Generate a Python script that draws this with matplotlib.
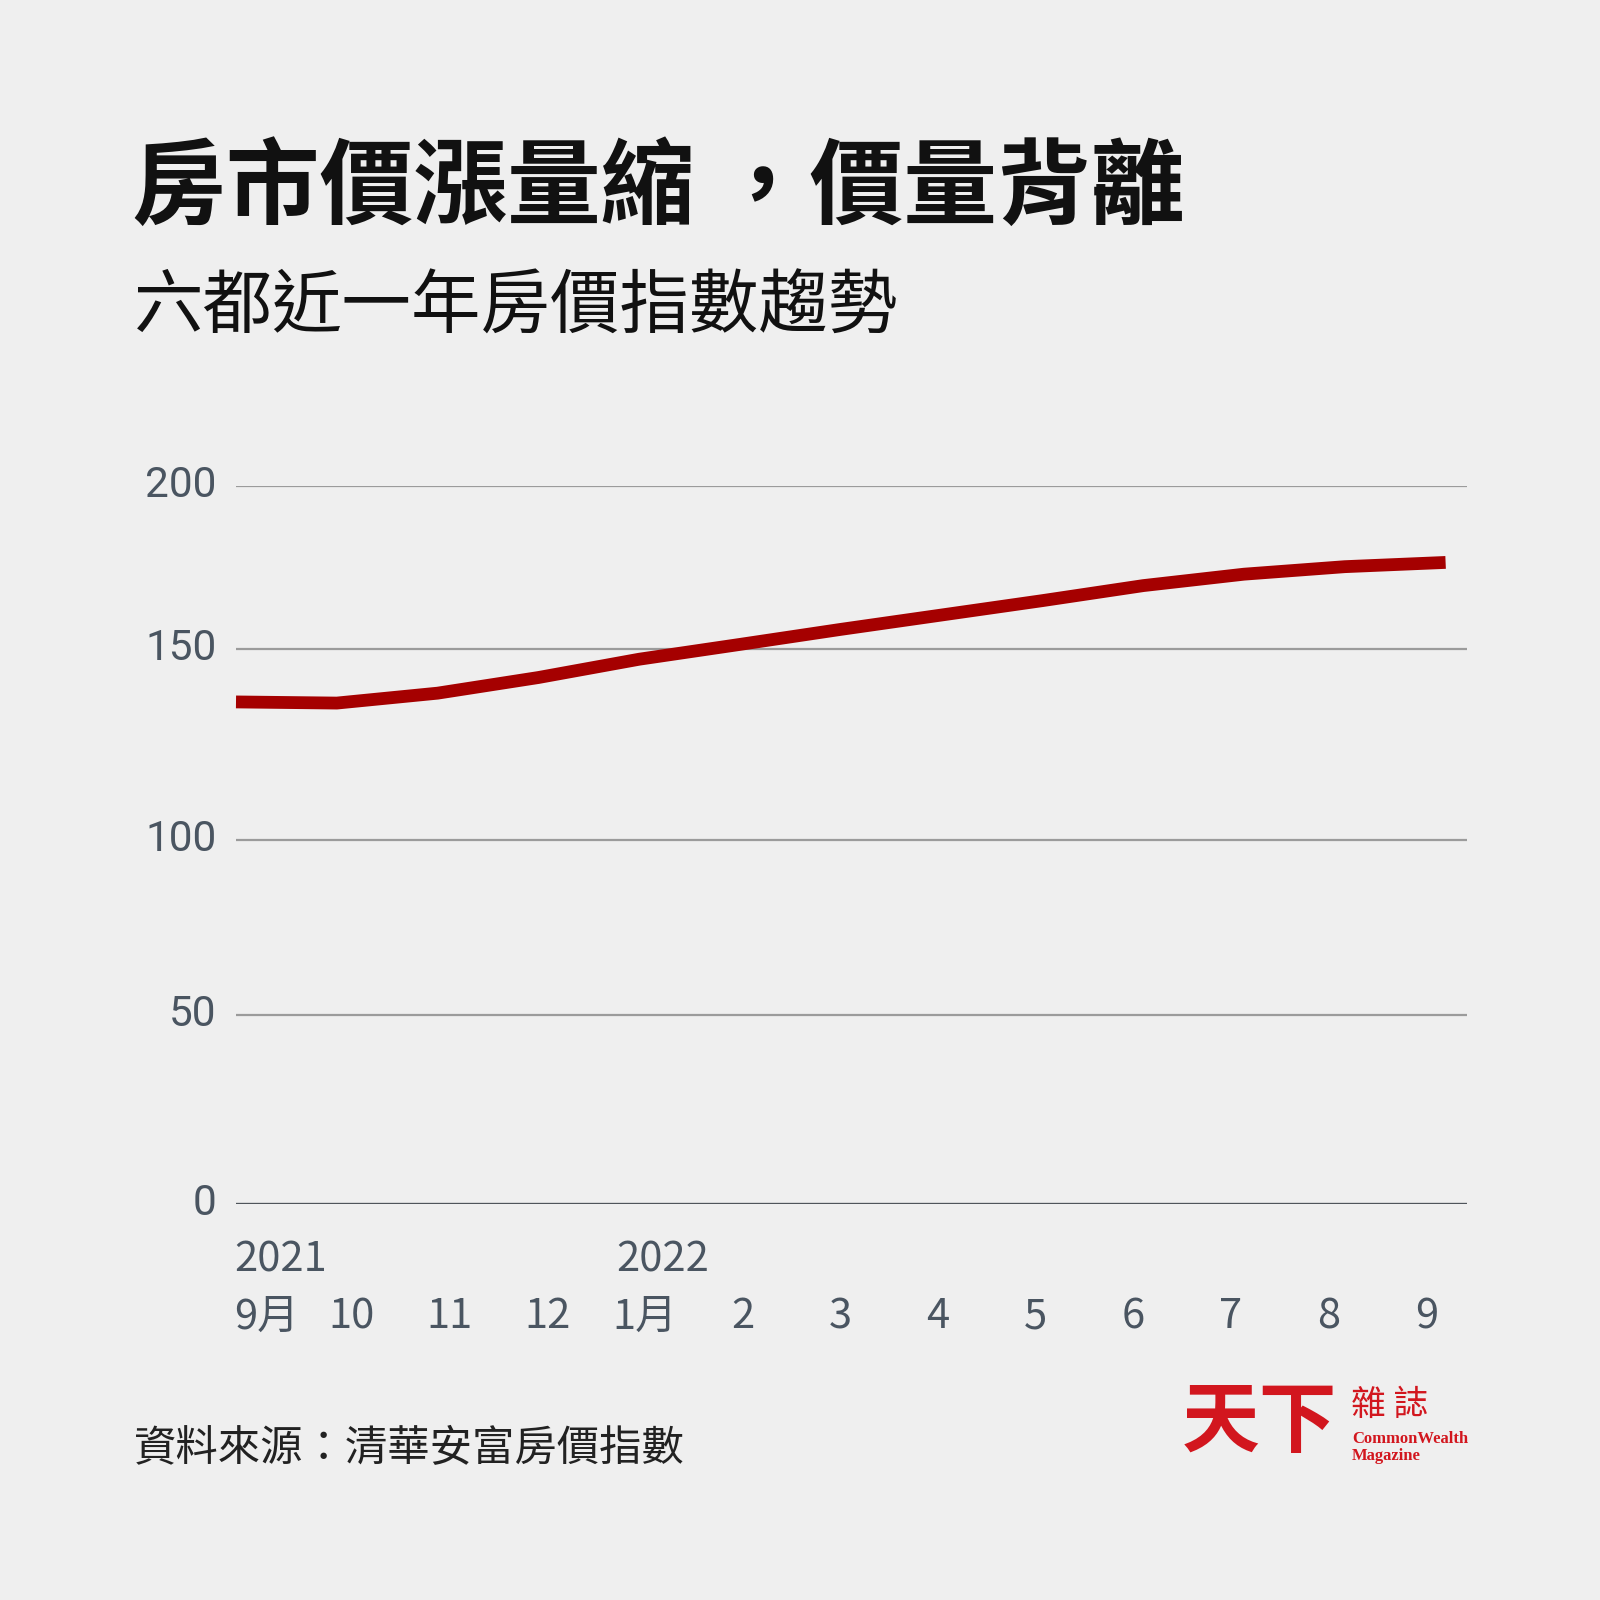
import numpy as np
import matplotlib
matplotlib.use("Agg")
import matplotlib.pyplot as plt
from matplotlib.transforms import ScaledTranslation

# ---------------- data ----------------
months = ["9月", "10", "11", "12", "1月", "2", "3", "4", "5", "6", "7", "8", "9"]
years = ["2021", "2022"]
year_month_index = [0, 4]
index_values = [136.2, 135.9, 138.5, 142.6, 147.4, 151.5, 156.1, 160.5,
                164.9, 169.5, 173.0, 175.3, 176.6]
y_ticks = [0, 50, 100, 150, 200]

title = "房市價漲量縮 ，價量背離"
subtitle = "六都近一年房價指數趨勢"
source = "資料來源：清華安富房價指數"

# ---------------- style ----------------
BG = "#efefef"
LINE = "#a50000"
TXT = "#4a5561"
RED = "#d2161e"
W = H = 1600.0

# gridlines in the reference are not evenly spaced (pixel offsets above zero line)
grid_px = [0.0, 189.0, 363.7, 554.4, 717.7]
ext_v = [-50] + y_ticks + [250]
ext_p = [-189.0] + grid_px + [717.7 + 163.3]


def fwd(v):
    return np.interp(v, ext_v, ext_p)


def inv(p):
    return np.interp(p, ext_p, ext_v)


fig = plt.figure(figsize=(16, 16), dpi=100, facecolor=BG)

x0, x1 = 236.0, 1467.0
yb, yt = 1203.7, 486.0
step = 100.8  # px per month of the data line
ax = fig.add_axes([x0 / W, 1 - yb / H, (x1 - x0) / W, (yb - yt) / H])
ax.set_facecolor(BG)
ax.set_xlim(0, (x1 - x0) / step)
ax.set_yscale("function", functions=(fwd, inv))
ax.set_ylim(0, 200)

for v in y_ticks[1:]:
    ax.axhline(v, color="#9b9b9b", lw=1.6, zorder=1)
ax.axhline(0, color="#4f555b", lw=2.4, zorder=1)

x = np.arange(len(index_values))
ax.plot(x, index_values, color=LINE, lw=9.2, solid_capstyle="butt",
        solid_joinstyle="round", clip_on=False, zorder=3)

for s in ax.spines.values():
    s.set_visible(False)
ax.set_yticks(y_ticks)
ax.set_yticklabels([str(v) for v in y_ticks], fontsize=30.5, color=TXT,
                   family=["Roboto", "DejaVu Sans"])
ax.tick_params(axis="y", length=0, pad=14)
ax.set_xticks([])
up = ScaledTranslation(0, 5 / 100, fig.dpi_scale_trans)
for lbl in ax.get_yticklabels():
    lbl.set_transform(lbl.get_transform() + up)

# month / year labels
lab_font = ["Noto Sans CJK TC", "DejaVu Sans"]
trans = ax.get_xaxis_transform()
label_step = 97.7 / step
label_start = (254.0 - x0) / step
year_left = (234.0 - x0) / step
for i, m in enumerate(months):
    if i == 0:
        xp, ha = year_left, "left"
    else:
        xp, ha = label_start + i * label_step, "center"
    ax.text(xp, (yb - 1317) / (yb - yt), m,
            transform=trans, ha=ha, va="center", fontsize=30,
            color=TXT, family=lab_font)
for yr, mi in zip(years, year_month_index):
    xp = year_left if mi == 0 else label_start + mi * label_step - 0.28
    ax.text(xp, (yb - 1260) / (yb - yt), yr,
            transform=trans, ha="left", va="center", fontsize=30,
            color=TXT, family=lab_font)

# titles
cjk = ["Noto Sans CJK TC", "DejaVu Sans"]
fig.text(132 / W, 1 - 189 / H, title, fontsize=67.5, fontweight="bold",
         color="#111111", family=cjk, ha="left", va="center")
fig.text(134 / W, 1 - 308 / H, subtitle, fontsize=50, color="#111111",
         family=cjk, ha="left", va="center")
fig.text(134 / W, 1 - 1449 / H, source, fontsize=30.5, color="#222222",
         family=cjk, ha="left", va="center")

# logo
fig.text(1182 / W, 1 - 1423 / H, "天下", fontsize=56, fontweight="heavy",
         color=RED, family=cjk, ha="left", va="center")
fig.text(1351 / W, 1 - 1405 / H, "雜 誌", fontsize=25, fontweight="normal",
         color=RED, family=cjk, ha="left", va="center")
serif = ["Liberation Serif", "DejaVu Serif"]
fig.text(1352 / W, 1 - 1439 / H, "CommonWealth", fontsize=12,
         fontweight="bold", color=RED, family=serif, ha="left", va="center")
fig.text(1352 / W, 1 - 1456 / H, "Magazine", fontsize=12,
         fontweight="bold", color=RED, family=serif, ha="left", va="center")

fig.savefig("out.png", dpi=100, facecolor=BG)
